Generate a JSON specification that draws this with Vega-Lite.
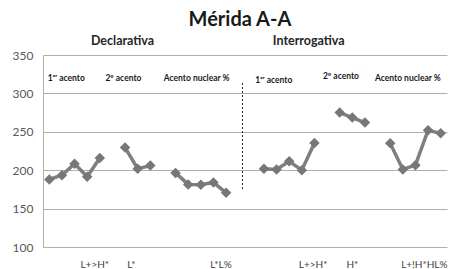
{
  "$schema": "https://vega.github.io/schema/vega-lite/v6.json",
  "width": 404,
  "height": 192,
  "autosize": {"type": "none"},
  "padding": {"left": 43, "top": 55, "right": 5, "bottom": 22},
  "background": "white",
  "config": {"view": {"stroke": null}, "font": "Lato"},
  "datasets": {
    "pts": [
      {"g": "d1", "i": 0, "v": 188}, {"g": "d1", "i": 1, "v": 193.5}, {"g": "d1", "i": 2, "v": 208.5}, {"g": "d1", "i": 3, "v": 191.5}, {"g": "d1", "i": 4, "v": 216},
      {"g": "d2", "i": 6, "v": 229.5}, {"g": "d2", "i": 7, "v": 202}, {"g": "d2", "i": 8, "v": 206},
      {"g": "d3", "i": 10, "v": 196.5}, {"g": "d3", "i": 11, "v": 181.5}, {"g": "d3", "i": 12, "v": 181}, {"g": "d3", "i": 13, "v": 184}, {"g": "d3", "i": 14, "v": 170.5},
      {"g": "q1", "i": 17, "v": 202}, {"g": "q1", "i": 18, "v": 201}, {"g": "q1", "i": 19, "v": 211.5}, {"g": "q1", "i": 20, "v": 200}, {"g": "q1", "i": 21, "v": 235.5},
      {"g": "q2", "i": 23, "v": 275}, {"g": "q2", "i": 24, "v": 268.5}, {"g": "q2", "i": 25, "v": 262},
      {"g": "q3", "i": 27, "v": 235}, {"g": "q3", "i": 28, "v": 201}, {"g": "q3", "i": 29, "v": 206.5}, {"g": "q3", "i": 30, "v": 252}, {"g": "q3", "i": 31, "v": 248}
    ],
    "title": [{"t": "Mérida A-A", "i": 15.1, "v": 388}],
    "heads": [
      {"t": "Declarativa", "i": 5.8, "v": 363},
      {"t": "Interrogativa", "i": 20.55, "v": 363}
    ],
    "subs": [
      {"t": "1ᵉʳ acento", "i": 1.35, "v": 320},
      {"t": "2º acento", "i": 5.87, "v": 320},
      {"t": "Acento nuclear %", "i": 11.67, "v": 320},
      {"t": "1ᵉʳ acento", "i": 17.78, "v": 317.5},
      {"t": "2º acento", "i": 23.1, "v": 322.5},
      {"t": "Acento nuclear %", "i": 28.4, "v": 320}
    ],
    "cats": [
      {"t": "L+>H*", "i": 3.6, "v": 76.5},
      {"t": "L*", "i": 6.5, "v": 76.5},
      {"t": "L*L%", "i": 13.6, "v": 76.5},
      {"t": "L+>H*", "i": 20.9, "v": 76.5},
      {"t": "H*", "i": 24, "v": 76.5},
      {"t": "L+!H*HL%", "i": 29.7, "v": 76.5}
    ],
    "sep": [{"i": 15.3, "v": 313.5, "v2": 175}]
  },
  "encoding": {
    "x": {"field": "i", "type": "quantitative", "scale": {"domain": [-0.5, 31.5], "nice": false, "zero": false}, "axis": null},
    "y": {"field": "v", "type": "quantitative", "scale": {"domain": [100, 350], "nice": false, "zero": false},
      "axis": {"title": null, "values": [100, 150, 200, 250, 300, 350], "labelOverlap": false, "grid": true, "gridColor": "#b0b0b0", "gridWidth": 1, "domain": true, "domainColor": "#b0b0b0", "ticks": false, "labelPadding": 10, "labelFont": "Lato", "labelFontSize": 12, "labelColor": "#595959"}}
  },
  "layer": [
    {
      "data": {"name": "pts"},
      "mark": {"type": "line", "color": "#7f7f7f", "strokeWidth": 3.5, "clip": false},
      "encoding": {"detail": {"field": "g"}}
    },
    {
      "data": {"name": "pts"},
      "mark": {"type": "point", "shape": "diamond", "size": 110, "filled": true, "opacity": 1, "color": "#777777"},
      "encoding": {}
    },
    {
      "data": {"name": "sep"},
      "mark": {"type": "rule", "color": "#222222", "strokeWidth": 1, "strokeDash": [2, 2]},
      "encoding": {"y2": {"field": "v2"}}
    },
    {
      "data": {"name": "title"},
      "mark": {"type": "text", "font": "Lato", "fontSize": 20, "fontWeight": "bold", "color": "#1a1a1a", "baseline": "alphabetic", "align": "center", "clip": false},
      "encoding": {"text": {"field": "t"}}
    },
    {
      "data": {"name": "heads"},
      "mark": {"type": "text", "font": "Lato", "fontSize": 12.5, "fontWeight": "bold", "color": "#262626", "baseline": "alphabetic", "align": "center", "clip": false},
      "encoding": {"text": {"field": "t"}}
    },
    {
      "data": {"name": "subs"},
      "mark": {"type": "text", "font": "Lato", "fontSize": 8.5, "fontWeight": "bold", "color": "#1a1a1a", "baseline": "middle", "align": "center"},
      "encoding": {"text": {"field": "t"}}
    },
    {
      "data": {"name": "cats"},
      "mark": {"type": "text", "font": "Lato", "fontSize": 10, "color": "#404040", "baseline": "middle", "align": "center"},
      "encoding": {"text": {"field": "t"}}
    }
  ]
}
